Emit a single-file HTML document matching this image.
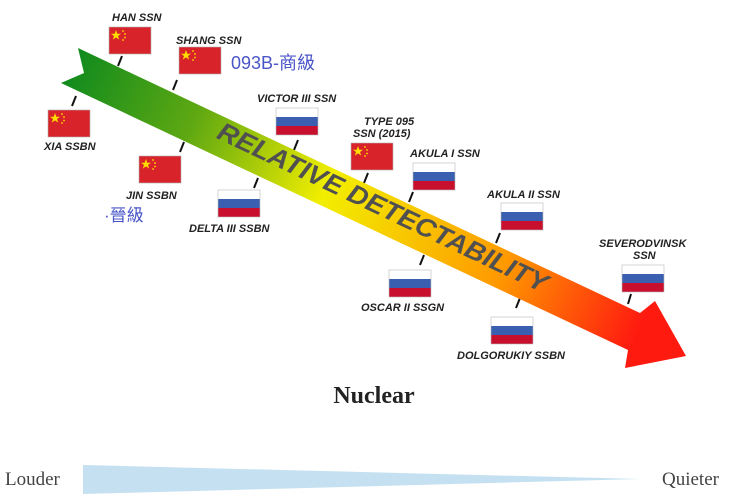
<!DOCTYPE html>
<html><head><meta charset="utf-8"><style>
html,body{margin:0;padding:0;background:#fff;width:736px;height:501px;overflow:hidden}
svg{display:block}
.l{font-family:"Liberation Sans",sans-serif;font-style:italic;font-weight:bold;font-size:11px;fill:#222}
</style></head><body>
<svg width="736" height="501" viewBox="0 0 736 501" xmlns="http://www.w3.org/2000/svg">
<defs>
<linearGradient id="g" gradientUnits="userSpaceOnUse" x1="70" y1="60" x2="690" y2="350">
<stop offset="0" stop-color="#0e8a1e"/>
<stop offset="0.2" stop-color="#5ea812"/>
<stop offset="0.42" stop-color="#f2ee00"/>
<stop offset="0.7" stop-color="#ff9a00"/>
<stop offset="0.92" stop-color="#ff1a10"/>
</linearGradient>
<g id="cn"><rect width="42" height="27" fill="#d8232a" stroke="#b0b0b0" stroke-width="0.6"/><polygon points="7,3 8.3,6.8 12,6.8 9,9 10.2,12.6 7,10.4 3.8,12.6 5,9 2,6.8 5.7,6.8" fill="#ffde00"/><circle cx="14" cy="4" r="0.9" fill="#ffde00"/><circle cx="16" cy="7" r="0.9" fill="#ffde00"/><circle cx="16" cy="10.5" r="0.9" fill="#ffde00"/><circle cx="14" cy="13" r="0.9" fill="#ffde00"/></g>
<g id="ru"><rect width="42" height="9" fill="#fff"/><rect y="9" width="42" height="9" fill="#3a5fb0"/><rect y="18" width="42" height="9" fill="#c8102e"/><rect width="42" height="27" fill="none" stroke="#b8b8b8" stroke-width="0.6"/></g>
</defs>
<g stroke="#111" stroke-width="2">
<line x1="122" y1="56" x2="118" y2="66"/>
<line x1="177" y1="80" x2="173" y2="90"/>
<line x1="76" y1="96" x2="72" y2="106"/>
<line x1="184" y1="142" x2="180" y2="152"/>
<line x1="298" y1="140" x2="294" y2="150"/>
<line x1="258" y1="178" x2="254" y2="188"/>
<line x1="368" y1="173" x2="364" y2="183"/>
<line x1="413" y1="192" x2="409" y2="202"/>
<line x1="500" y1="233" x2="496" y2="243"/>
<line x1="424" y1="255" x2="420" y2="265"/>
<line x1="520" y1="298" x2="516" y2="308"/>
<line x1="631" y1="294" x2="628" y2="304"/>
</g>
<polygon points="78,48 640,313 655,301 686,356 625,368 628,350 61,83 84,73" fill="url(#g)"/>
<text transform="translate(382,209) rotate(25.4)" text-anchor="middle" dominant-baseline="middle" font-family="Liberation Sans,sans-serif" font-style="italic" font-weight="bold" font-size="26" fill="#505050" textLength="362" lengthAdjust="spacingAndGlyphs">RELATIVE DETECTABILITY</text>

<use href="#cn" x="109" y="27"/><text class="l" x="112" y="21">HAN SSN</text>
<use href="#cn" x="179" y="47"/><text class="l" x="176" y="44">SHANG SSN</text>
<text x="231" y="69" font-family="Liberation Sans,'Noto Sans CJK TC',sans-serif" font-size="18" fill="#4a55c8">093B-商級</text>
<use href="#cn" x="48" y="110"/><text class="l" x="44" y="150">XIA SSBN</text>
<use href="#cn" x="139" y="156"/><text class="l" x="126" y="199">JIN SSBN</text>
<text x="104" y="221" font-family="Liberation Sans,'Noto Sans CJK TC',sans-serif" font-size="17" fill="#4a55c8">·晉級</text>
<use href="#ru" x="276" y="108"/><text class="l" x="257" y="102">VICTOR III SSN</text>
<use href="#ru" x="218" y="190"/><text class="l" x="189" y="232">DELTA III SSBN</text>
<use href="#cn" x="351" y="143"/><text class="l" x="364" y="125">TYPE 095</text><text class="l" x="353" y="137">SSN (2015)</text>
<use href="#ru" x="413" y="163"/><text class="l" x="410" y="157">AKULA I SSN</text>
<use href="#ru" x="501" y="203"/><text class="l" x="487" y="198">AKULA II SSN</text>
<use href="#ru" x="622" y="265"/><text class="l" x="599" y="247">SEVERODVINSK</text><text class="l" x="633" y="259">SSN</text>
<use href="#ru" x="389" y="270"/><text class="l" x="361" y="311">OSCAR II SSGN</text>
<use href="#ru" x="491" y="317"/><text class="l" x="457" y="359">DOLGORUKIY SSBN</text>

<text x="374" y="403" text-anchor="middle" font-family="Liberation Serif,serif" font-weight="bold" font-size="24" fill="#222">Nuclear</text>
<polygon points="83,465 640,479 83,494" fill="#c5e1f1"/>
<text x="5" y="485" font-family="Liberation Serif,serif" font-size="19" fill="#444">Louder</text>
<text x="662" y="485" font-family="Liberation Serif,serif" font-size="19" fill="#444">Quieter</text>
</svg>
</body></html>
